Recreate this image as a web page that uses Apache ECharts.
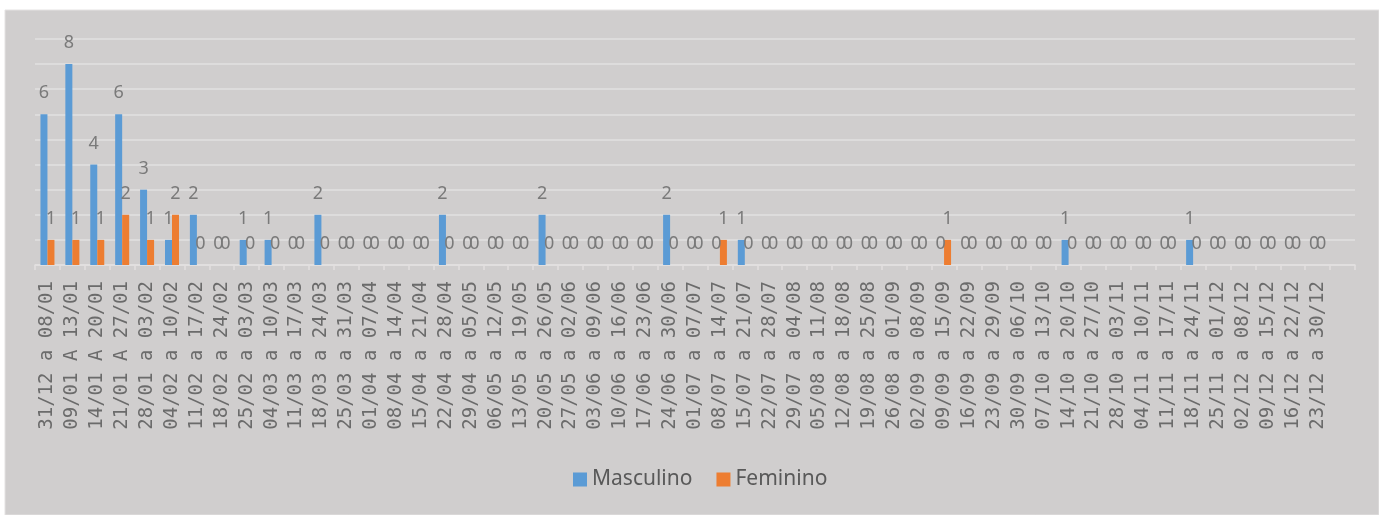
<!DOCTYPE html>
<html>
<head>
<meta charset="utf-8">
<script src="https://cdn.jsdelivr.net/npm/echarts@6/dist/echarts.min.js"></script>
<style>
html,body{margin:0;padding:0;background:#ffffff;}
#c{width:1379px;height:515px;}
</style>
</head>
<body>
<div id="c"></div>
<script>
const categories = [
 '31/12 a 08/01','09/01 A 13/01','14/01 A 20/01','21/01 A 27/01','28/01 a 03/02','04/02 a 10/02',
 '11/02 a 17/02','18/02 a 24/02','25/02 a 03/03','04/03 a 10/03','11/03 a 17/03','18/03 a 24/03',
 '25/03 a 31/03','01/04 a 07/04','08/04 a 14/04','15/04 a 21/04','22/04 a 28/04','29/04 a 05/05',
 '06/05 a 12/05','13/05 a 19/05','20/05 a 26/05','27/05 a 02/06','03/06 a 09/06','10/06 a 16/06',
 '17/06 a 23/06','24/06 a 30/06','01/07 a 07/07','08/07 a 14/07','15/07 a 21/07','22/07 a 28/07',
 '29/07 a 04/08','05/08 a 11/08','12/08 a 18/08','19/08 a 25/08','26/08 a 01/09','02/09 a 08/09',
 '09/09 a 15/09','16/09 a 22/09','23/09 a 29/09','30/09 a 06/10','07/10 a 13/10','14/10 a 20/10',
 '21/10 a 27/10','28/10 a 03/11','04/11 a 10/11','11/11 a 17/11','18/11 a 24/11','25/11 a 01/12',
 '02/12 a 08/12','09/12 a 15/12','16/12 a 22/12','23/12 a 30/12',''
];
const masculino = [6,8,4,6,3,1,2,0,1,1,0,2,0,0,0,0,2,0,0,0,2,0,0,0,0,2,0,0,1,0,0,0,0,0,0,0,0,0,0,0,0,1,0,0,0,0,1,0,0,0,0,0];
const feminino  = [1,1,1,2,1,2,0,0,0,0,0,0,0,0,0,0,0,0,0,0,0,0,0,0,0,0,0,1,0,0,0,0,0,0,0,0,1,0,0,0,0,0,0,0,0,0,0,0,0,0,0,0];
const seriesNames = ['Masculino','Feminino'];

const chart = echarts.init(document.getElementById('c'));
const labelStyle = {
  show: true, position: 'top', distance: 12,
  fontFamily: 'Noto Sans', fontSize: 18, color: '#7a7a7a'
};
chart.setOption({
  backgroundColor: '#ffffff',
  animation: false,
  graphic: [{
    type: 'rect', z: -10, silent: true,
    shape: {x: 5, y: 10, width: 1374, height: 505},
    style: {fill: '#d0cece', stroke: '#e4e2e2', lineWidth: 1}
  }],
  color: ['#5b9bd5','#ed7d31'],
  legend: {
    data: seriesNames,
    left: 573, top: 469, padding: 0,
    icon: 'rect', itemWidth: 14, itemHeight: 14, itemGap: 24,
    textStyle: {fontFamily: 'Noto Sans', fontSize: 21, color: '#595959'}
  },
  grid: {left: 35, right: 24, top: 39, bottom: 250, containLabel: false},
  xAxis: {
    type: 'category', data: categories,
    axisLine: {lineStyle: {color: '#e2e0e0', width: 1.5}},
    axisTick: {show: true, length: 5, lineStyle: {color: '#e2e0e0', width: 1.5}},
    axisLabel: {
      interval: 0, rotate: 90, margin: 16,
      fontFamily: 'DejaVu Sans Mono', fontSize: 19, color: '#6b6b6b'
    }
  },
  yAxis: {
    type: 'value', min: 0, max: 9, interval: 1,
    axisLabel: {show: false}, axisLine: {show: false}, axisTick: {show: false},
    splitLine: {lineStyle: {color: '#e2e0e0', width: 1.5}}
  },
  series: [
    {name: seriesNames[0], type: 'bar', data: masculino, barWidth: 7, barGap: '0%', label: labelStyle},
    {name: seriesNames[1], type: 'bar', data: feminino, barWidth: 7, barGap: '0%', label: labelStyle}
  ]
});
</script>
</body>
</html>
